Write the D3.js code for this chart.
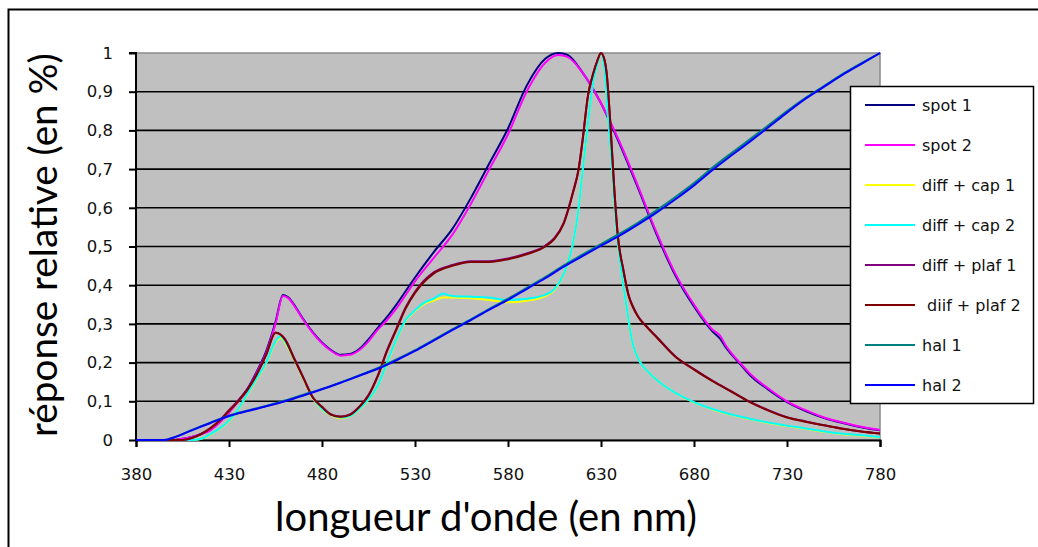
<!DOCTYPE html>
<html>
<head>
<meta charset="utf-8">
<script src="https://cdn.jsdelivr.net/npm/d3@7"></script>
<style>
  html, body { margin: 0; padding: 0; background: #fff; }
  svg { display: block; }
</style>
</head>
<body>
<svg id="chart" width="1038" height="547"></svg>
<script>
// ---------- data ----------
const xTicks = [380, 430, 480, 530, 580, 630, 680, 730, 780];
const yTicks = [0, 0.1, 0.2, 0.3, 0.4, 0.5, 0.6, 0.7, 0.8, 0.9, 1];
const yTickLabels = ["0", "0,1", "0,2", "0,3", "0,4", "0,5", "0,6", "0,7", "0,8", "0,9", "1"];

const seriesNames = ["spot 1", "spot 2", "diff + cap 1", "diff + cap 2", "diff + plaf 1", " diif + plaf 2", "hal 1", "hal 2"];
const seriesColors = ["#000080", "#ff00ff", "#ffff00", "#00ffff", "#800080", "#800000", "#008080", "#0000ff"];

const wlSpot = [380,400,405,410,415,420,425,430,435,440,445,450,455,459,462,466,470,475,480,485,490,495,500,505,510,515,520,530,540,550,560,570,580,590,600,607,612,620,630,640,650,660,670,680,690,694,697,700,705,710,720,730,740,750,760,770,780];
const spot1 = [0,0,0.003,0.008,0.016,0.027,0.047,0.072,0.102,0.133,0.178,0.23,0.305,0.375,0.368,0.342,0.312,0.279,0.252,0.232,0.22,0.222,0.235,0.26,0.29,0.318,0.35,0.42,0.485,0.545,0.625,0.715,0.805,0.915,0.985,1.0,0.995,0.95,0.87,0.765,0.65,0.53,0.425,0.345,0.28,0.262,0.24,0.222,0.195,0.168,0.13,0.098,0.075,0.057,0.044,0.033,0.025];
const spot2 = [0,0,0.003,0.008,0.015,0.025,0.045,0.07,0.1,0.13,0.175,0.225,0.3,0.372,0.366,0.34,0.31,0.277,0.25,0.23,0.218,0.22,0.232,0.255,0.285,0.31,0.34,0.41,0.47,0.53,0.61,0.7,0.79,0.9,0.975,0.995,0.99,0.95,0.87,0.77,0.655,0.535,0.43,0.35,0.285,0.27,0.245,0.225,0.198,0.172,0.133,0.1,0.077,0.058,0.045,0.034,0.026];

const wlCap = [380,410,415,420,425,430,435,440,445,450,455,458,460,465,470,475,480,485,490,495,500,505,510,515,520,525,530,535,540,545,550,560,570,580,590,600,605,610,615,618,620,623,626,628,630,632,634,636,638,640,642,644,647,650,655,660,665,670,680,690,700,710,720,730,740,750,760,770,780];
const cap1 = [0,0,0.003,0.014,0.029,0.049,0.079,0.118,0.158,0.198,0.252,0.265,0.252,0.208,0.158,0.108,0.079,0.064,0.056,0.061,0.079,0.104,0.139,0.198,0.258,0.308,0.333,0.352,0.36,0.368,0.368,0.366,0.362,0.356,0.36,0.372,0.388,0.43,0.51,0.6,0.69,0.82,0.93,0.97,1.0,0.95,0.82,0.7,0.56,0.47,0.4,0.336,0.25,0.21,0.178,0.155,0.137,0.122,0.097,0.079,0.065,0.054,0.044,0.036,0.029,0.021,0.015,0.011,0.007];
const cap2 = [0,0,0.003,0.015,0.03,0.05,0.08,0.12,0.16,0.2,0.255,0.268,0.255,0.21,0.16,0.11,0.08,0.065,0.058,0.062,0.08,0.105,0.14,0.2,0.26,0.31,0.335,0.355,0.365,0.378,0.372,0.37,0.368,0.362,0.365,0.375,0.39,0.43,0.51,0.6,0.69,0.82,0.93,0.97,1.0,0.95,0.82,0.7,0.56,0.47,0.4,0.336,0.25,0.21,0.178,0.155,0.137,0.122,0.098,0.08,0.066,0.055,0.045,0.037,0.03,0.022,0.016,0.012,0.008];

const wlPlaf = [380,405,410,415,420,425,430,435,440,445,450,455,460,465,470,475,480,485,490,495,500,505,510,515,520,525,530,540,550,560,570,580,590,600,605,610,615,618,620,623,626,628,630,632,633,635,637,639,642,645,647,650,655,660,670,680,690,700,710,720,730,740,750,760,770,780];
const plaf1 = [0,0,0.005,0.016,0.031,0.051,0.077,0.102,0.132,0.172,0.222,0.278,0.262,0.212,0.161,0.111,0.086,0.066,0.061,0.066,0.086,0.116,0.167,0.232,0.288,0.343,0.383,0.433,0.452,0.462,0.462,0.469,0.482,0.502,0.522,0.562,0.642,0.702,0.772,0.89,0.95,0.98,1.0,0.98,0.95,0.82,0.66,0.53,0.44,0.372,0.347,0.319,0.291,0.266,0.216,0.183,0.153,0.126,0.099,0.077,0.059,0.048,0.038,0.029,0.022,0.017];
const plaf2 = [0,0,0.005,0.015,0.03,0.05,0.075,0.1,0.13,0.17,0.22,0.277,0.26,0.21,0.16,0.11,0.085,0.065,0.06,0.065,0.085,0.115,0.165,0.23,0.285,0.34,0.38,0.43,0.45,0.46,0.46,0.467,0.48,0.5,0.52,0.56,0.64,0.7,0.77,0.89,0.95,0.98,1.0,0.98,0.95,0.82,0.66,0.53,0.44,0.37,0.345,0.318,0.29,0.265,0.215,0.182,0.152,0.125,0.098,0.076,0.058,0.047,0.038,0.029,0.022,0.017];

const wlHal = [380,395,400,410,420,430,440,450,460,470,480,490,500,510,520,530,540,550,560,570,580,590,600,610,620,630,640,650,660,670,680,690,700,710,720,730,740,750,760,770,780];
const hal1 = [0,0,0.006,0.026,0.045,0.063,0.076,0.088,0.102,0.117,0.132,0.149,0.167,0.186,0.208,0.232,0.259,0.286,0.312,0.339,0.365,0.393,0.421,0.451,0.479,0.506,0.533,0.562,0.594,0.628,0.664,0.704,0.741,0.777,0.813,0.85,0.884,0.915,0.946,0.974,1.0];
const hal2 = [0,0,0.006,0.025,0.044,0.062,0.075,0.087,0.1,0.115,0.131,0.148,0.166,0.184,0.206,0.23,0.257,0.284,0.31,0.337,0.362,0.39,0.418,0.448,0.475,0.502,0.528,0.557,0.588,0.622,0.658,0.698,0.735,0.771,0.808,0.846,0.882,0.913,0.944,0.972,1.0];

const seriesX = [wlSpot, wlSpot, wlCap, wlCap, wlPlaf, wlPlaf, wlHal, wlHal];
const seriesY = [spot1, spot2, cap1, cap2, plaf1, plaf2, hal1, hal2];

// ---------- layout ----------
const svg = d3.select("#chart");
const plot = { left: 136, right: 880, top: 53, bottom: 440 };
const x = d3.scaleLinear().domain([380, 780]).range([plot.left, plot.right]);
const y = d3.scaleLinear().domain([0, 1]).range([plot.bottom, plot.top]);
const tickFont = "'DejaVu Sans', Verdana, sans-serif";

// outer frame
svg.append("rect").attr("x", 8.5).attr("y", 9.5).attr("width", 1040).attr("height", 560)
  .attr("fill", "none").attr("stroke", "#000").attr("stroke-width", 2);

// plot background
svg.append("rect").attr("x", plot.left).attr("y", plot.top)
  .attr("width", plot.right - plot.left).attr("height", plot.bottom - plot.top)
  .attr("fill", "#c0c0c0").attr("stroke", "#8a8a8a").attr("stroke-width", 1.5);

// gridlines
svg.append("g").selectAll("line").data(yTicks.filter(v => v > 0 && v < 1)).join("line")
  .attr("x1", plot.left).attr("x2", plot.right)
  .attr("y1", d => y(d)).attr("y2", d => y(d))
  .attr("stroke", "#000").attr("stroke-width", 1.6);

// axes
const yAxis = d3.axisLeft(y).tickValues(yTicks).tickFormat((d, i) => yTickLabels[i]).tickSize(7).tickPadding(16);
const gy = svg.append("g").attr("transform", `translate(${plot.left},0)`).call(yAxis);
const xAxis = d3.axisBottom(x).tickValues(xTicks).tickFormat(d3.format("d")).tickSize(7).tickPadding(21);
const gx = svg.append("g").attr("transform", `translate(0,${plot.bottom})`).call(xAxis);
[gx, gy].forEach(g => {
  g.select(".domain").attr("stroke", "#000").attr("stroke-width", 2);
  g.selectAll(".tick line").attr("stroke", "#000").attr("stroke-width", 2);
  g.selectAll(".tick text").attr("fill", "#111")
    .style("font-family", tickFont).style("font-size", "16.5px");
});
gy.select(".domain").attr("d", `M-7,${plot.top}H0V${plot.bottom}`);

// series lines
const line = d3.line().x(d => x(d[0])).y(d => y(d[1])).curve(d3.curveMonotoneX);
const lines = svg.append("g");
seriesNames.forEach((name, i) => {
  lines.append("path")
    .datum(d3.zip(seriesX[i], seriesY[i]))
    .attr("d", line)
    .attr("fill", "none")
    .attr("stroke", seriesColors[i])
    .attr("stroke-width", 2)
    .attr("stroke-linejoin", "round");
});

// axis titles
function fitText(sel, target) {
  const len = sel.node().getComputedTextLength();
  const fs = parseFloat(sel.style("font-size"));
  sel.style("font-size", (fs * target / len) + "px");
}
const xt = svg.append("text").attr("x", 486).attr("y", 531).attr("text-anchor", "middle")
  .style("font-family", "Lato, 'Open Sans', sans-serif").style("font-size", "30px").attr("fill", "#000")
  .text("longueur d'onde (en nm)");
fitText(xt, 422);
const yt = svg.append("text").attr("transform", "translate(57,245) rotate(-90)").attr("text-anchor", "middle")
  .style("font-family", "Lato, 'Open Sans', sans-serif").style("font-size", "30px").attr("fill", "#000")
  .text("réponse relative (en %)");
fitText(yt, 384);

// legend
const lg = svg.append("g");
lg.append("rect").attr("x", 850.5).attr("y", 86.5).attr("width", 183).attr("height", 317)
  .attr("fill", "#fff").attr("stroke", "#000").attr("stroke-width", 1.5);
const legendY = d3.scalePoint().domain(seriesNames).range([105, 385]);
seriesNames.forEach((name, i) => {
  const yy = legendY(name);
  lg.append("line").attr("x1", 865).attr("x2", 915).attr("y1", yy).attr("y2", yy)
    .attr("stroke", seriesColors[i]).attr("stroke-width", 2);
  lg.append("text").attr("x", 922).attr("y", yy + 6)
    .style("font-family", tickFont).style("font-size", "16px")
    .style("white-space", "pre").attr("fill", "#111").text(name);
});
</script>
</body>
</html>
